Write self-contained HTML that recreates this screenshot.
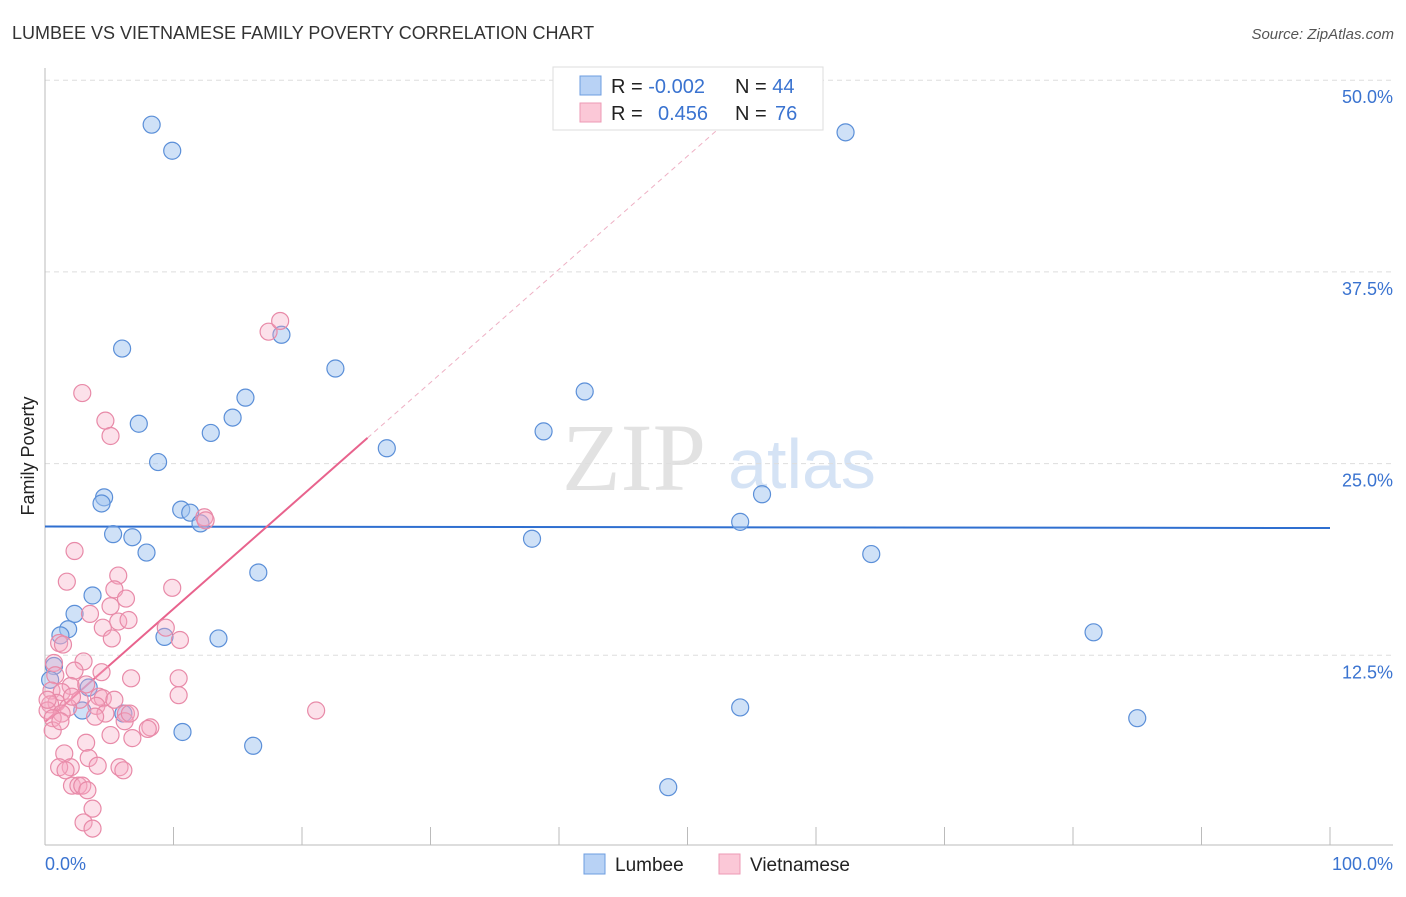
<!DOCTYPE html>
<html><head><meta charset="utf-8"><style>
body{margin:0;background:#fff;font-family:"Liberation Sans",sans-serif;}
svg text{font-family:"Liberation Sans",sans-serif;}
</style></head><body>
<svg id="c" width="1406" height="892" xmlns="http://www.w3.org/2000/svg">
<text x="12" y="39" font-size="18" fill="#333">LUMBEE VS VIETNAMESE FAMILY POVERTY CORRELATION CHART</text>
<text x="1394" y="39" font-size="15" fill="#555" font-style="italic" text-anchor="end">Source: ZipAtlas.com</text>
<text x="634" y="490" font-size="96" fill="#e2e2e2" style="font-family:'Liberation Serif',serif" text-anchor="middle">ZIP</text>
<text x="802" y="488" font-size="70" fill="#d5e3f5" text-anchor="middle">atlas</text>
<text transform="translate(34,456) rotate(-90)" font-size="18" fill="#222" text-anchor="middle">Family Poverty</text>
<g id="grid"></g><g id="axes"></g><g id="trend"></g><g id="pts"></g>
<g>
<rect x="553" y="67" width="270" height="63" fill="#fff" stroke="#ddd"/>
<rect x="580" y="76" width="21" height="19" fill="#b8d2f5" stroke="#6d9de0"/>
<rect x="580" y="103" width="21" height="19" fill="#fbc8d7" stroke="#ee9ab4"/>
<text x="611" y="93" font-size="20" fill="#222">R = <tspan fill="#3a73d0">-0.002</tspan><tspan x="735">N = </tspan><tspan fill="#3a73d0">44</tspan></text>
<text x="611" y="120" font-size="20" fill="#222">R = <tspan x="658" fill="#3a73d0">0.456</tspan><tspan x="735">N = </tspan><tspan x="775" fill="#3a73d0">76</tspan></text>
</g>
<g>
<rect x="584" y="854" width="21" height="20" fill="#b8d2f5" stroke="#6d9de0"/>
<text x="615" y="871" font-size="19" fill="#222">Lumbee</text>
<rect x="719" y="854" width="21" height="20" fill="#fbc8d7" stroke="#ee9ab4"/>
<text x="750" y="871" font-size="19" fill="#222">Vietnamese</text>
</g>
</svg>
<script>
const yTicks=[12.5,25,37.5,50];
const yTickLabels=["12.5%","25.0%","37.5%","50.0%"];
const xTicks=[0,10,20,30,40,50,60,70,80,90,100];
const lumbeeX=[8.3,9.9,62.3,6.0,18.4,22.6,42.0,15.6,14.6,7.3,12.9,38.8,26.6,8.8,4.6,4.4,55.8,10.6,11.3,12.1,54.1,5.3,6.8,37.9,7.9,64.3,16.6,3.7,2.3,1.8,1.2,13.5,9.3,81.6,0.7,3.4,2.9,6.1,54.1,85.0,10.7,16.2,48.5,0.4];
const lumbeeY=[47.1,45.4,46.6,32.5,33.4,31.2,29.7,29.3,28.0,27.6,27.0,27.1,26.0,25.1,22.8,22.4,23.0,22.0,21.8,21.1,21.2,20.4,20.2,20.1,19.2,19.1,17.9,16.4,15.2,14.2,13.8,13.6,13.7,14.0,11.8,10.4,8.9,8.7,9.1,8.4,7.5,6.6,3.9,10.9];
const vietX=[2.9,4.7,5.1,17.4,18.3,12.4,2.3,5.7,1.7,9.9,5.4,6.3,5.1,3.5,5.7,6.5,4.5,9.4,5.2,1.1,1.4,3.0,0.7,2.3,4.4,0.8,6.7,10.4,3.2,2.0,0.5,1.3,10.4,4.2,4.5,2.7,0.9,0.4,4.0,1.8,0.2,4.7,6.3,21.1,1.3,3.9,0.6,6.2,8.2,8.0,0.6,5.1,6.8,3.2,1.5,3.4,4.1,2.0,1.1,5.8,6.1,2.1,2.6,2.9,3.3,3.7,3.0,3.7,1.6,1.2,2.1,0.2,10.5,12.5,6.6,5.4];
const vietY=[29.6,27.8,26.8,33.6,34.3,21.5,19.3,17.7,17.3,16.9,16.8,16.2,15.7,15.2,14.7,14.8,14.3,14.3,13.6,13.3,13.2,12.1,12.0,11.5,11.4,11.2,11.0,11.0,10.6,10.5,10.2,10.1,9.9,9.8,9.7,9.6,9.4,9.3,9.2,9.1,8.9,8.7,8.7,8.9,8.7,8.5,8.4,8.2,7.8,7.7,7.6,7.3,7.1,6.8,6.1,5.8,5.3,5.2,5.2,5.2,5.0,4.0,4.0,4.0,3.7,2.5,1.6,1.2,5.0,8.2,9.8,9.6,13.5,21.3,8.7,9.6];
const lumbeeTrend=[20.9,20.8];
const vietTrend=[8.15,0.738];
const X0=45,X1=1330,Y0=847,PPU=191.7/12.5;
const sx=v=>X0+(X1-X0)*v/100, sy=v=>Y0-v*PPU;
const NS="http://www.w3.org/2000/svg";
function mk(p,t,a){const e=document.createElementNS(NS,t);for(const k in a)e.setAttribute(k,a[k]);document.getElementById(p).appendChild(e);return e;}
yTicks.forEach((t,i)=>{
 const l=mk('grid','line',{x1:45,x2:1393,y1:sy(t),y2:sy(t),stroke:'#ddd','stroke-dasharray':'5,4'});
 
 
 const tx=mk('grid','text',{x:1393,y:sy(t)+23,'font-size':18,fill:'#3a73d0','text-anchor':'end'});
 tx.textContent=yTickLabels[i];
 
 
});
mk('axes','line',{x1:45,x2:45,y1:68,y2:845,stroke:'#bbb'});
mk('axes','line',{x1:45,x2:1393,y1:845,y2:845,stroke:'#bbb'});
xTicks.forEach(t=>{const l=mk('axes','line',{x1:sx(t),x2:sx(t),y1:827,y2:845,stroke:'#bbb'});
 
 });
let a=mk('axes','text',{x:45,y:870,'font-size':18,fill:'#3a73d0'});a.textContent='0.0%';


a=mk('axes','text',{x:1393,y:870,'font-size':18,fill:'#3a73d0','text-anchor':'end'});a.textContent='100.0%';


lumbeeX.forEach((x,i)=>{const c=mk('pts','circle',{cx:sx(x),cy:sy(lumbeeY[i]),r:8.5,fill:'rgba(160,195,240,0.5)',stroke:'#5b8fd8','stroke-width':1.2});
 
 });
vietX.forEach((x,i)=>{const c=mk('pts','circle',{cx:sx(x),cy:sy(vietY[i]),r:8.5,fill:'rgba(245,170,195,0.35)',stroke:'#e88aa8','stroke-width':1.2});
 
 });
let t=mk('trend','line',{x1:sx(0),x2:sx(100),y1:sy(lumbeeTrend[0]),y2:sy(lumbeeTrend[1]),stroke:'#2f6fd0','stroke-width':2});


const vf=x=>vietTrend[0]+vietTrend[1]*x;
t=mk('trend','line',{x1:sx(0),x2:sx(25.1),y1:sy(vf(0)),y2:sy(vf(25.1)),stroke:'#e8638d','stroke-width':2});


t=mk('trend','line',{x1:sx(25.1),x2:sx(53.5),y1:sy(vf(25.1)),y2:sy(vf(53.5)),stroke:'#eeb0c4','stroke-width':1,'stroke-dasharray':'5,4'});


</script>
</body></html>
